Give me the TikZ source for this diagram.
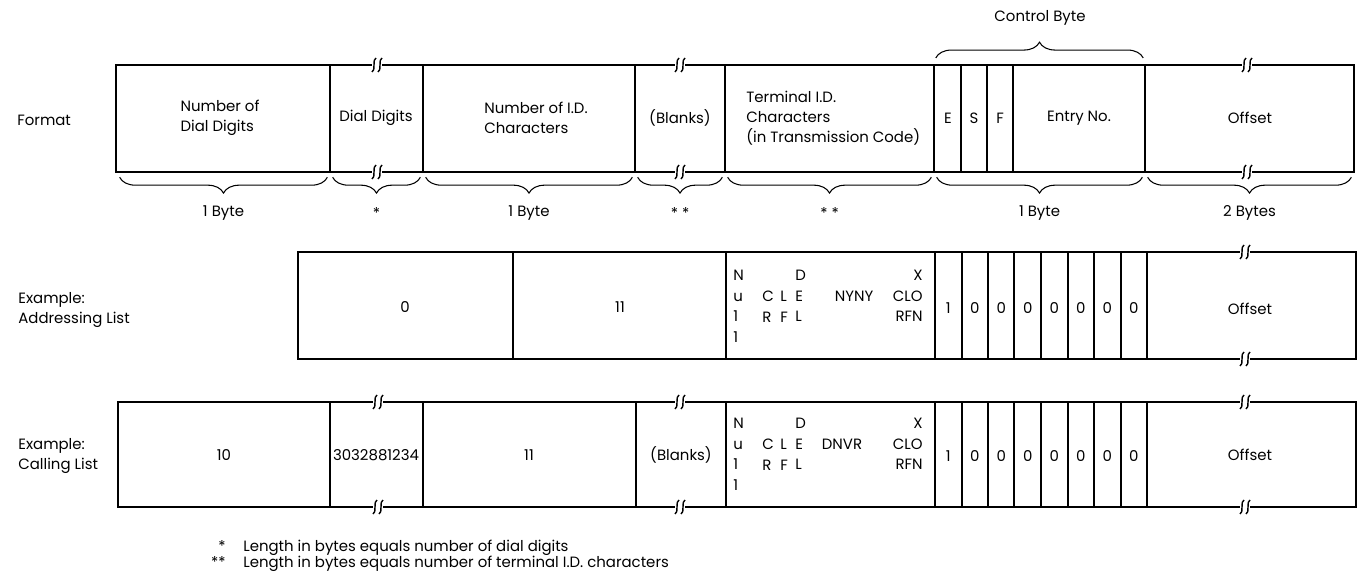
\documentclass[tikz,border=0pt]{standalone}
\usepackage{fontspec}
\setmainfont{Poppins}
\usetikzlibrary{decorations.pathreplacing}

% break mark on a long field
\newcommand\brkmark[2]{%
  \fill[white] (#1-5,#2-3) rectangle (#1+5,#2+3);
  \draw[line width=0.8pt] (#1-1,#2-7) .. controls (#1-5,#2-6) and (#1-1,#2+6) .. (#1-5,#2+7);
  \draw[line width=0.8pt] (#1+5,#2-7) .. controls (#1+1,#2-6) and (#1+5,#2+6) .. (#1+1,#2+7);
}

\begin{document}
\begin{tikzpicture}[x=0.02cm, y=-0.02cm,
    txt/.style={font=\fontsize{8.5}{11.4}\selectfont, inner sep=0pt},
    idc/.style={txt, font=\fontsize{8.5}{11.7}\selectfont, align=left},
    outer/.style={line width=1.5pt},
    sep/.style={line width=0.6pt},
    brc/.style={decorate, decoration={brace, amplitude=9pt}, line width=0.6pt}
]
\useasboundingbox (0,0) rectangle (1361,574);

% Format
\node[txt, anchor=west] (fmtLbl) at (17,120) {Format};
\draw[outer] (116,65) rectangle (1354,172);
\foreach \x in {330,423,635,725,934,961,987,1013,1145}
  \draw[sep] (\x,65) -- (\x,172);
\foreach \x in {377,680,1247} {\brkmark{\x}{65}\brkmark{\x}{172}}

\node[txt, align=left] (fmtNdd) at (220,118) {Number of\\Dial Digits};
\node[txt] (fmtDd) at (376,118) {Dial Digits};
\node[txt, align=left] (fmtNid) at (536,118) {Number of I.D.\\Characters};
\node[txt] (fmtBl) at (680,118) {(Blanks)};
\node[txt, align=left, anchor=west] (fmtTid) at (746,118)
     {Terminal I.D.\\Characters\\(in Transmission Code)};
\node[txt] (fmtE) at (948,118) {E};
\node[txt] (fmtS) at (974,118) {S};
\node[txt] (fmtF) at (1000,118) {F};
\node[txt] (fmtEnt) at (1079,118) {Entry No.};
\node[txt] (fmtOff) at (1250,118) {Offset};

% byte counts
\foreach \n/\x in {0/117,1/330,2/423,3/635,4/725,5/934,6/1145,7/1354}
  \coordinate (b\n) at (\x,172);
\foreach \a/\b/\t in {0/1/1 Byte,1/2/*,2/3/1 Byte,3/4/* *,4/5/* *,5/6/1 Byte,6/7/2 Bytes}
  \draw[brc] ([xshift=-1.5pt,yshift=-3pt]b\b) -- ([xshift=1.5pt,yshift=-3pt]b\a)
     node[txt, midway, yshift=-20.5pt] (fmtSz\a) {\t};

% control byte
\coordinate (c5) at (934,65);
\coordinate (c6) at (1145,65);
\draw[brc] ([xshift=1pt,yshift=4pt]c5) -- ([xshift=-1pt,yshift=4pt]c6);
\node[txt] (ctlLbl) at (1040,18) {Control Byte};

% Example: addressing list
\node[txt, anchor=west, align=left] (adrLbl) at (18,310) {Example:\\Addressing List};
\draw[outer] (298,252) rectangle (1356,359);
\foreach \x in {513,726,935,962,988,1014,1041,1068,1094,1121,1147}
  \draw[sep] (\x,252) -- (\x,359);
\brkmark{1245}{252}\brkmark{1245}{359}

\node[txt] (adrNdd) at (405,307) {0};
\node[txt] (adrNid) at (620,307) {11};
\node[idc, anchor=north west] (adrIdA) at (733,270) {N\\u\\1\\1};
\node[idc, anchor=north west] (adrIdB) at (762,291) {C\\R};
\node[idc, anchor=north west] (adrIdC) at (780,291) {L\\F};
\node[idc, anchor=north west] (adrIdD) at (795,270) {D\\E\\L};
\node[idc, anchor=north] (adrIdE) at (854,291) {NYNY};
\node[idc, align=right, anchor=north east] (adrIdF) at (923,270) {X\\CLO\\RFN};
\foreach \i/\v in {1/1,2/0,3/0,4/0,5/0,6/0,7/0,8/0}
  \node[txt] (adrBit\i) at ({935+26.5*(\i-0.5)},308) {\v};
\node[txt] (adrOff) at (1250,309) {Offset};

% Example: calling list
\node[txt, anchor=west, align=left] (calLbl) at (18,456) {Example:\\Calling List};
\draw[outer] (118,402) rectangle (1356,507);
\foreach \x in {330,423,636,726,935,962,988,1014,1041,1068,1094,1121,1147}
  \draw[sep] (\x,402) -- (\x,507);
\foreach \x in {378,680,1245} {\brkmark{\x}{402}\brkmark{\x}{507}}

\node[txt] (calNdd) at (224,455) {10};
\node[txt] (calDd) at (376,455) {3032881234};
\node[txt] (calNid) at (529,455) {11};
\node[txt] (calBl) at (681,455) {(Blanks)};
\node[idc, anchor=north west] (calIdA) at (733,418) {N\\u\\1\\1};
\node[idc, anchor=north west] (calIdB) at (762,439) {C\\R};
\node[idc, anchor=north west] (calIdC) at (780,439) {L\\F};
\node[idc, anchor=north west] (calIdD) at (795,418) {D\\E\\L};
\node[idc, anchor=north] (calIdE) at (842,439) {DNVR};
\node[idc, align=right, anchor=north east] (calIdF) at (923,418) {X\\CLO\\RFN};
\foreach \i/\v in {1/1,2/0,3/0,4/0,5/0,6/0,7/0,8/0}
  \node[txt] (calBit\i) at ({935+26.5*(\i-0.5)},456) {\v};
\node[txt] (calOff) at (1250,455) {Offset};

% notes
\node[txt, anchor=base east] (fnA) at (226,551) {*};
\node[txt, anchor=base west] (fnTxtA) at (243,551) {Length in bytes equals number of dial digits};
\node[txt, anchor=base east] (fnB) at (226,567) {**};
\node[txt, anchor=base west] (fnTxtB) at (243,567) {Length in bytes equals number of terminal I.D. characters};
\end{tikzpicture}
\end{document}
